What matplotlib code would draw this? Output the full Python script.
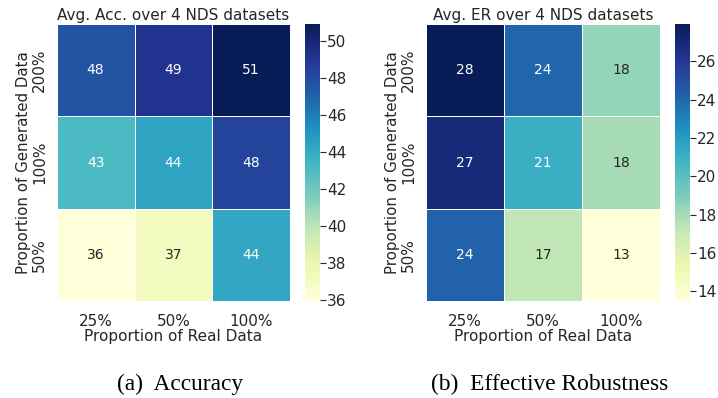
import matplotlib
matplotlib.use("Agg")
import matplotlib.pyplot as plt
import seaborn as sns
import numpy as np

# data
real_labels = ["25%", "50%", "100%"]
gen_labels = ["200%", "100%", "50%"]
acc = [[47.6, 49.2, 50.9],
       [43.1, 44.4, 48.3],
       [35.95, 37.2, 44.2]]
er = [[27.95, 24.1, 18.4],
      [26.9, 21.1, 17.9],
      [24.2, 17.3, 13.48]]

sns.set_theme(style="white")
plt.rcParams['font.family'] = ['DejaVu Sans']
plt.rcParams['text.color'] = '#262626'

fig = plt.figure(figsize=(7.18, 3.98), dpi=100)
ax1 = fig.add_axes([0.079, 0.243, 0.325, 0.697])
cax1 = fig.add_axes([0.425, 0.243, 0.021, 0.697])
ax2 = fig.add_axes([0.593, 0.243, 0.326, 0.697])
cax2 = fig.add_axes([0.940, 0.243, 0.021, 0.697])

for ax, cax, data, title in [(ax1, cax1, acc, "Avg. Acc. over 4 NDS datasets"),
                             (ax2, cax2, er, "Avg. ER over 4 NDS datasets")]:
    sns.heatmap(np.array(data), ax=ax, cbar_ax=cax, cmap="YlGnBu",
                annot=True, fmt=".0f", linewidths=0.6, linecolor="white",
                xticklabels=real_labels, yticklabels=gen_labels,
                annot_kws={"fontsize": 10})
    ax.set_title(title, fontsize=11, pad=3)
    ax.set_xlabel("Proportion of Real Data", fontsize=11, labelpad=0)
    ax.set_ylabel("Proportion of Generated Data", fontsize=10.8, labelpad=1)
    ax.tick_params(axis="x", labelsize=11, length=0, pad=9)
    ax.tick_params(axis="y", labelsize=11, length=0, pad=7)
    ax.set_yticklabels(gen_labels, rotation=90, va="center")
    cax.tick_params(labelsize=11, length=4, width=0.8, color="#262626", pad=1)
    for s in cax.spines.values():
        s.set_visible(False)

fig.text(0.251, 0.02, "(a)  Accuracy", family="Liberation Serif", fontsize=16.8,
         ha="center", va="baseline", color="black")
fig.text(0.766, 0.02, "(b)  Effective Robustness", family="Liberation Serif",
         fontsize=16.8, ha="center", va="baseline", color="black")

fig.savefig("out.png", dpi=100)
